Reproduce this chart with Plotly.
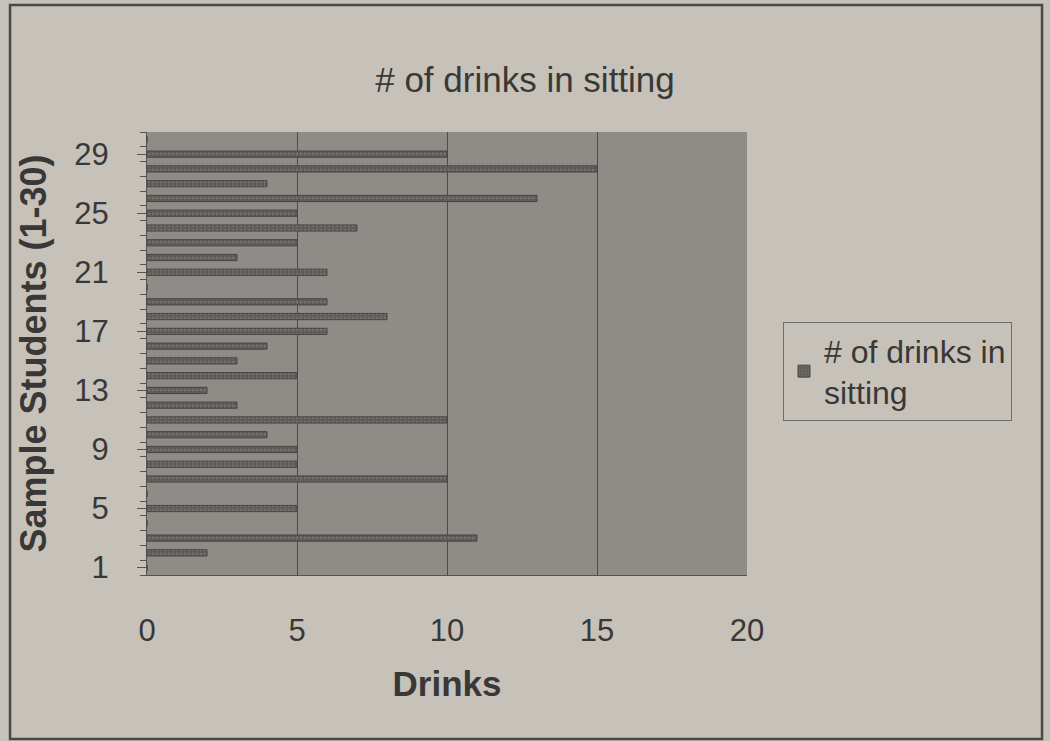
import plotly.graph_objects as go

students = list(range(1, 31))
drinks = [0, 2, 11, 0, 5, 0, 10, 5, 5, 4,
          10, 3, 2, 5, 3, 4, 6, 8, 6, 0,
          6, 3, 5, 7, 5, 13, 4, 15, 10, 0]
y_ticks = [1, 5, 9, 13, 17, 21, 25, 29]
x_ticks = [0, 5, 10, 15, 20]

fig = go.Figure()
fig.add_trace(go.Bar(
    x=drinks, y=students, orientation="h",
    name="# of drinks in<br>sitting",
    marker=dict(color="#5e5c59", line=dict(color="#474543", width=1),
                pattern=dict(shape=".", fgcolor="#8a8884", size=4, solidity=0.3)),
    width=0.42,
))

font = "Liberation Sans, Arial, sans-serif"
txt = "#3a3836"
fig.update_layout(
    width=1050, height=741,
    margin=dict(l=147, r=303, t=132, b=166),
    paper_bgcolor="#c6c2ba",
    plot_bgcolor="#8e8c87",
    font=dict(family=font, size=31, color=txt),
    title=dict(text="# of drinks in sitting", x=0.5, xanchor="center",
               y=0.892, yanchor="middle", font=dict(size=35, color=txt)),
    showlegend=True,
    legend=dict(x=1.06, y=0.571, xanchor="left", yanchor="top",
                bgcolor="rgba(0,0,0,0)", bordercolor="#6e6c68", borderwidth=1,
                font=dict(size=32, color=txt), itemwidth=30),
    xaxis=dict(range=[0, 20], tickvals=x_ticks, showgrid=True,
               gridcolor="#4e4c49", gridwidth=1, zeroline=False,
               showline=True, linecolor="#55534f",
               ticks="", ticklabelstandoff=28,
               title=dict(text="<b>Drinks</b>", standoff=24,
                          font=dict(size=35, color=txt))),
    yaxis=dict(range=[0.5, 30.5], tickvals=y_ticks, showgrid=False,
               zeroline=False, showline=True, linecolor="#55534f",
               ticks="outside", ticklen=9, tickcolor="#55534f",
               ticklabelstandoff=22,
               minor=dict(dtick=1, tick0=0.5, ticks="outside", ticklen=6, tickcolor="#55534f"),
               title=dict(text="<b>Sample Students (1-30)</b>", standoff=16,
                          font=dict(size=36, color=txt))),
)
fig.add_shape(type="rect", xref="paper", yref="paper",
              x0=-0.2283, x1=1.4917, y0=-0.370, y1=1.2867,
              line=dict(color="#4a4846", width=2.5), fillcolor="rgba(0,0,0,0)", layer="below")
fig.write_html("out.html", config={"displayModeBar": False},
               post_script="document.body.style.margin='0';document.body.style.background='#c6c2ba';")
